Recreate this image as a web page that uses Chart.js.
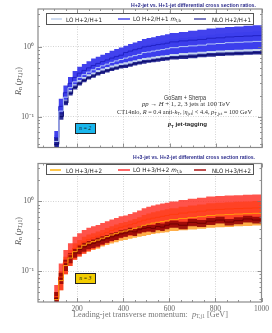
<!DOCTYPE html>
<html><head><meta charset="utf-8">
<script src="https://cdn.jsdelivr.net/npm/chart.js@4.4.0/dist/chart.umd.min.js"></script>
<style>
html,body{margin:0;padding:0;background:#fff;width:272px;height:333px;overflow:hidden;}
#wrap{position:relative;width:272px;height:333px;}
canvas{position:absolute;left:0;}
.t{position:absolute;white-space:nowrap;line-height:1;transform-origin:0 50%;}
.ttl{font:bold 5.5px "Liberation Sans",sans-serif;color:#2c2c8c;}
.lg{font:6px "DejaVu Sans",sans-serif;color:#222;}
.ser{font-family:"Liberation Serif","DejaVu Serif",serif;}
.box{position:absolute;border:1px solid #555;background:#fff;box-sizing:border-box;}
.sw{position:absolute;height:2px;}
.nb{position:absolute;box-sizing:border-box;border:1px solid #222;font:italic 5.5px "Liberation Serif",serif;color:#111;text-align:center;}
sub{font-size:70%;vertical-align:-0.25em;}
</style></head><body>
<div id="wrap">
<canvas id="c1" width="272" height="156" style="top:0;width:272px;height:156px"></canvas>
<canvas id="c2" width="272" height="178" style="top:155px;width:272px;height:178px"></canvas>

<div class="t ttl" data-w="125" style="left:131px;top:5.3px">H+2-jet vs. H+1-jet differential cross section ratios.</div>
<div class="t ttl" data-w="122" style="left:133px;top:157.3px">H+3-jet vs. H+2-jet differential cross section ratios.</div>

<div class="box" style="left:46px;top:13px;width:208px;height:11.5px"></div>
<div class="sw" style="left:51px;top:17.7px;width:11px;background:#cfdcf0"></div>
<div class="t lg" data-w="36" style="left:66px;top:18.7px">LO H+2/H+1</div>
<div class="sw" style="left:118px;top:17.7px;width:12px;background:#7878f0"></div>
<div class="t lg" data-w="48" style="left:133px;top:18.7px">LO H+2/H+1 <i>m</i><sub>t,b</sub></div>
<div class="sw" style="left:194px;top:17.7px;width:12px;background:#7c7cc0"></div>
<div class="t lg" data-w="39" style="left:212px;top:18.7px">NLO H+2/H+1</div>

<div class="box" style="left:46px;top:163.8px;width:208px;height:11.5px"></div>
<div class="sw" style="left:50px;top:168.5px;width:11px;background:#ffc64a"></div>
<div class="t lg" data-w="36" style="left:66px;top:169.5px">LO H+3/H+2</div>
<div class="sw" style="left:118px;top:168.5px;width:12px;background:#ff6868"></div>
<div class="t lg" data-w="49" style="left:133px;top:169.5px">LO H+3/H+2 <i>m</i><sub>t,b</sub></div>
<div class="sw" style="left:194px;top:168.5px;width:12px;background:#c05050"></div>
<div class="t lg" data-w="39" style="left:212px;top:169.5px">NLO H+3/H+2</div>

<div class="t" data-w="42" style="left:164px;top:96.7px;font:6.5px 'Liberation Sans',sans-serif;color:#333">GoSam + Sherpa</div>
<div class="t ser" data-w="88" style="left:142px;top:104.3px;font-size:7px;color:#333"><i>pp</i> → <i>H</i> + 1, 2, 3 jets at 100 TeV</div>
<div class="t ser" data-w="135" style="left:117px;top:112.7px;font-size:6px;color:#333">CT14nlo, <i>R</i> = 0.4 anti-<i>k</i><sub>T</sub>, |<i>η</i><sub>jet</sub>| &lt; 4.4, <i>p</i><sub>T,jet</sub> = 100 GeV</div>
<div class="t" data-w="39" style="left:168px;top:125.3px;font:bold 6px 'Liberation Sans',sans-serif;color:#222"><i style="font-family:'Liberation Serif',serif">p</i><sub>T</sub> jet-tagging</div>

<div class="nb" style="left:75px;top:122.7px;width:20.5px;height:11.5px;line-height:9.5px;background:#1ab6ec"><i>n</i> = 2</div>
<div class="nb" style="left:75px;top:272.7px;width:20.5px;height:11.5px;line-height:9.5px;background:#f2cc00"><i>n</i> = 3</div>

<div class="t ser" data-w="155" style="left:73px;top:315px;font-size:8.5px;color:#777">Leading-jet transverse momentum: &nbsp;<i>p</i><sub>T,j1</sub> [GeV]</div>

<div class="t ser yt" style="left:19px;top:80.5px;font-size:8px;color:#555"><i>R</i><sub>n</sub> (<i>p</i><sub>T,j1</sub>)</div>
<div class="t ser yt" style="left:19px;top:231px;font-size:8px;color:#555"><i>R</i><sub>n</sub> (<i>p</i><sub>T,j1</sub>)</div>
</div>

<script>
// bin edges (GeV)
const edges = [100,120,140,160,180,200,220,240,260,280,300,320,340,360,380,400,420,440,460,480,500,520,540,560,580,600,640,680,720,760,800,840,880,920,960,1000];

// ---- H+2 / H+1 ----
const topLoLo  = [0.032,0.095,0.15,0.205,0.25,0.29,0.32,0.35,0.37,0.4,0.42,0.44,0.46,0.48,0.5,0.51,0.53,0.55,0.57,0.59,0.6,0.61,0.63,0.64,0.65,0.67,0.69,0.7,0.72,0.74,0.75,0.76,0.77,0.78,0.79];
const topLoHi  = [0.055,0.15,0.23,0.3,0.37,0.43,0.47,0.51,0.56,0.59,0.63,0.67,0.72,0.76,0.8,0.85,0.9,0.95,1.0,1.06,1.09,1.13,1.17,1.2,1.24,1.29,1.34,1.39,1.44,1.5,1.54,1.58,1.61,1.64,1.68];
const topLoC   = [0.044,0.12,0.19,0.26,0.315,0.365,0.4,0.435,0.47,0.505,0.535,0.565,0.6,0.63,0.66,0.69,0.72,0.75,0.78,0.83,0.845,0.87,0.895,0.915,0.94,0.975,1.01,1.035,1.06,1.1,1.12,1.15,1.165,1.18,1.2];
const topMtbLo = [0.036,0.108,0.174,0.24,0.29,0.335,0.37,0.405,0.43,0.465,0.49,0.515,0.54,0.565,0.585,0.6,0.62,0.645,0.67,0.695,0.705,0.72,0.74,0.755,0.765,0.79,0.815,0.83,0.85,0.875,0.885,0.9,0.91,0.925,0.935];
const topMtbHi = [0.062,0.18,0.28,0.37,0.45,0.52,0.57,0.62,0.68,0.72,0.77,0.82,0.88,0.93,0.98,1.04,1.10,1.16,1.22,1.30,1.34,1.38,1.43,1.47,1.52,1.58,1.64,1.70,1.76,1.83,1.88,1.93,1.97,2.01,2.05];
const topMtbC  = [0.05,0.14,0.22,0.3,0.365,0.42,0.46,0.5,0.54,0.58,0.615,0.65,0.69,0.725,0.76,0.83,0.87,0.91,0.945,1.0,1.02,1.05,1.08,1.1,1.13,1.18,1.22,1.25,1.28,1.33,1.35,1.39,1.41,1.43,1.45];
const topNloLo = [0.03,0.09,0.145,0.2,0.245,0.28,0.31,0.34,0.36,0.39,0.41,0.43,0.45,0.47,0.49,0.5,0.52,0.54,0.56,0.575,0.59,0.6,0.61,0.63,0.64,0.66,0.67,0.69,0.71,0.72,0.74,0.75,0.76,0.77,0.78];
const topNloHi = [0.05,0.115,0.17,0.23,0.28,0.315,0.35,0.38,0.405,0.435,0.46,0.48,0.505,0.525,0.55,0.56,0.58,0.605,0.625,0.65,0.655,0.675,0.69,0.71,0.715,0.74,0.76,0.775,0.8,0.815,0.83,0.84,0.855,0.86,0.875];
const topNloC  = [0.04,0.1,0.157,0.215,0.262,0.297,0.33,0.36,0.382,0.412,0.435,0.455,0.477,0.497,0.52,0.53,0.55,0.572,0.592,0.615,0.622,0.637,0.655,0.67,0.677,0.7,0.72,0.732,0.755,0.772,0.785,0.795,0.807,0.815,0.827];

// ---- H+3 / H+2 ----
const botLoLo  = [0.03,0.053,0.09,0.118,0.145,0.162,0.178,0.19,0.2,0.21,0.225,0.237,0.248,0.26,0.272,0.28,0.29,0.3,0.31,0.32,0.33,0.34,0.35,0.355,0.36,0.375,0.385,0.395,0.405,0.42,0.425,0.43,0.44,0.445,0.45];
const botLoHi  = [0.05,0.1,0.16,0.2,0.25,0.28,0.31,0.335,0.35,0.37,0.39,0.415,0.44,0.465,0.49,0.505,0.53,0.56,0.59,0.64,0.67,0.7,0.72,0.745,0.77,0.8,0.84,0.87,0.9,0.94,0.96,0.975,0.985,1.0,1.01];
const botLoC   = [0.039,0.073,0.12,0.154,0.19,0.213,0.235,0.252,0.265,0.279,0.296,0.314,0.33,0.348,0.365,0.376,0.392,0.41,0.428,0.453,0.47,0.488,0.502,0.514,0.527,0.548,0.569,0.586,0.604,0.628,0.639,0.647,0.658,0.667,0.674];
const botMtbLo = [0.03,0.053,0.09,0.118,0.145,0.162,0.178,0.192,0.205,0.218,0.235,0.25,0.265,0.28,0.295,0.31,0.322,0.335,0.35,0.36,0.37,0.38,0.39,0.4,0.41,0.425,0.44,0.455,0.465,0.48,0.49,0.5,0.505,0.51,0.515];
const botMtbHi = [0.063,0.128,0.2,0.25,0.31,0.35,0.39,0.42,0.44,0.46,0.49,0.52,0.55,0.58,0.61,0.63,0.66,0.7,0.74,0.8,0.84,0.87,0.9,0.93,0.96,1.0,1.05,1.09,1.13,1.18,1.2,1.22,1.23,1.25,1.26];
const botMtbC  = [0.043,0.082,0.134,0.172,0.212,0.238,0.263,0.284,0.3,0.317,0.339,0.36,0.382,0.403,0.424,0.442,0.461,0.484,0.509,0.537,0.557,0.575,0.592,0.61,0.627,0.652,0.68,0.704,0.725,0.753,0.767,0.781,0.788,0.798,0.806];
const botNloLo = [0.03,0.065,0.1,0.13,0.155,0.175,0.19,0.205,0.215,0.225,0.24,0.255,0.27,0.28,0.3,0.31,0.33,0.32,0.345,0.36,0.37,0.36,0.385,0.375,0.4,0.42,0.4,0.44,0.43,0.46,0.48,0.45,0.47,0.5,0.48];
const botNloHi = [0.05,0.095,0.145,0.18,0.21,0.235,0.255,0.27,0.285,0.3,0.315,0.33,0.35,0.365,0.385,0.395,0.42,0.41,0.44,0.46,0.47,0.46,0.49,0.48,0.51,0.53,0.51,0.56,0.54,0.58,0.6,0.56,0.59,0.62,0.6];
const botNloC  = [0.04,0.08,0.122,0.155,0.183,0.205,0.222,0.237,0.25,0.262,0.277,0.292,0.31,0.322,0.342,0.352,0.375,0.365,0.392,0.41,0.42,0.41,0.437,0.427,0.455,0.475,0.455,0.5,0.485,0.52,0.54,0.505,0.53,0.56,0.54];

// axis ticks
const xMajor = [200,400,600,800,1000];
const xMinor = [50,100,150,250,300,350,450,500,550,650,700,750,850,900,950];
const yMajor = [0.1,1];
const yMinor = [0.04,0.05,0.06,0.07,0.08,0.09,0.2,0.3,0.4,0.5,0.6,0.7,0.8,0.9,2,3];
const yLabels = {'0.1':'10\u207B\u00B9','1':'10\u2070'};

function pts(vals){
  const p = vals.map((v,i)=>({x:edges[i],y:v}));
  p.push({x:edges[edges.length-1],y:vals[vals.length-1]});
  return p;
}
function band(lo,hi,color,order){
  return [
    {data:pts(lo),borderWidth:0,borderColor:'rgba(0,0,0,0)',pointRadius:0,fill:false,stepped:'before',order},
    {data:pts(hi),borderWidth:0,borderColor:'rgba(0,0,0,0)',backgroundColor:color,pointRadius:0,fill:'-1',stepped:'before',order}
  ];
}
function line(c,color,order){
  return {data:pts(c),borderColor:color,borderWidth:1,pointRadius:0,fill:false,stepped:'before',order};
}

const frame = {
  id:'frame',
  afterDraw(chart){
    const {ctx,chartArea:a,scales:{x,y}} = chart;
    ctx.save();
    ctx.strokeStyle='#777'; ctx.lineWidth=0.8;
    ctx.beginPath();
    const dy=(v,l)=>{const p=Math.round(y.getPixelForValue(v))+0.5;ctx.moveTo(a.left,p);ctx.lineTo(a.left+l,p);ctx.moveTo(a.right,p);ctx.lineTo(a.right-l,p);};
    const dx=(v,l)=>{const p=Math.round(x.getPixelForValue(v))+0.5;ctx.moveTo(p,a.bottom);ctx.lineTo(p,a.bottom-l);ctx.moveTo(p,a.top);ctx.lineTo(p,a.top+l);};
    yMajor.forEach(v=>dy(v,4)); yMinor.forEach(v=>dy(v,2));
    xMajor.forEach(v=>dx(v,4)); xMinor.forEach(v=>dx(v,2));
    ctx.stroke();
    ctx.strokeStyle='#8a8a8a'; ctx.lineWidth=1.2;
    ctx.strokeRect(a.left,a.top,a.width,a.height);
    ctx.restore();
  }
};

function makeChart(id,ds,padTop,xH,showX){
  return new Chart(document.getElementById(id),{
    type:'line',
    data:{datasets:ds},
    options:{
      responsive:false,animation:false,events:[],
      layout:{padding:{top:padTop,right:10,left:0,bottom:0}},
      plugins:{legend:{display:false},tooltip:{enabled:false}},
      scales:{
        x:{type:'linear',min:30,max:1000,
          afterBuildTicks:s=>{s.ticks=xMajor.map(v=>({value:v}));},
          afterFit:s=>{s.height=xH;},
          grid:{color:'#c8c8c8',lineWidth:0.8,drawTicks:false},
          border:{display:false,dash:[1,1.5]},
          ticks:{display:showX,padding:3,color:'#666',font:{family:'Liberation Serif',size:7.5},maxRotation:0,autoSkip:false,
            callback:v=>String(v)}
        },
        y:{type:'logarithmic',min:0.036,max:3.5,
          afterBuildTicks:s=>{s.ticks=yMajor.map(v=>({value:v}));},
          afterFit:s=>{s.width=38;},
          grid:{color:'#c8c8c8',lineWidth:0.8,drawTicks:false},
          border:{display:false,dash:[1,1.5]},
          ticks:{padding:4,color:'#555',font:{family:'Liberation Serif',size:7.5},autoSkip:false,
            callback:v=>yLabels[String(+v.toPrecision(3))]||''}
        }
      }
    },
    plugins:[frame]
  });
}

const ds1 = [
  ...band(topLoLo,topLoHi,'#c4d4ee',4),
  ...band(topMtbLo,topMtbHi,'rgba(45,45,235,0.9)',3),
  ...band(topNloLo,topNloHi,'rgba(25,25,140,0.9)',2),
  line(topLoC,'#b4c6f4',1),
  line(topMtbC,'#2222c4',1),
  line(topNloC,'#0c0c6c',1)
];
const ds2 = [
  ...band(botLoLo,botLoHi,'rgba(255,160,40,0.85)',4),
  ...band(botMtbLo,botMtbHi,'rgba(255,40,30,0.8)',3),
  ...band(botNloLo,botNloHi,'rgba(150,8,8,0.9)',2),
  line(botLoC,'#ff9a10',1),
  line(botMtbC,'#ff3a10',1),
  line(botNloC,'#700000',1)
];
makeChart('c1',ds1,9,4,false);
makeChart('c2',ds2,5,31,true);

// fit overlay texts to measured widths
document.querySelectorAll('[data-w]').forEach(el=>{
  const w = el.getBoundingClientRect().width;
  const k = (+el.dataset.w)/w;
  el.style.transform = 'translateY(-50%) scaleX('+k.toFixed(3)+')';
});
document.querySelectorAll('.yt').forEach(el=>{
  el.style.transformOrigin='50% 50%';
  el.style.transform='translate(-50%,-50%) rotate(-90deg)';
});
</script>
</body></html>
